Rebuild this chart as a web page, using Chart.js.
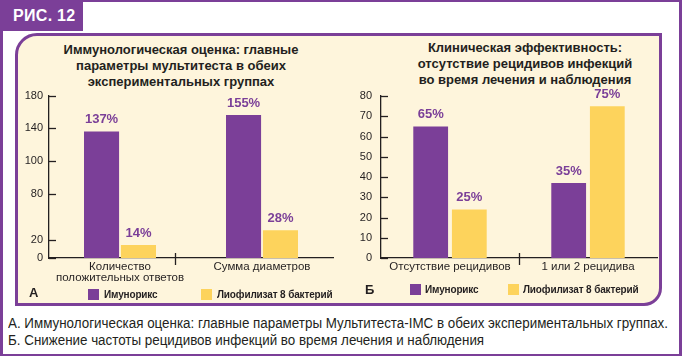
<!DOCTYPE html>
<html>
<head>
<meta charset="utf-8">
<script src="https://cdn.jsdelivr.net/npm/chart.js@4/dist/chart.umd.min.js"></script>
<style>
  html, body { margin: 0; padding: 0; background: #fff; }
  #root { position: relative; width: 682px; height: 356px; overflow: hidden; font-family: 'Liberation Sans', Arial, sans-serif; }
  .frame { position: absolute; left: 0; top: 0; width: 682px; height: 356px; box-sizing: border-box;
           border-top: 2px solid #7b3f98; border-right: 3px solid #7b3f98; border-bottom: 2px solid #7b3f98; border-left: 3px solid #7b3f98; }
  .fig { position: absolute; left: 0; top: 0; width: 83px; height: 31px; background: #7b3f98; color: #fff;
         font: bold 16px 'Liberation Sans', Arial, sans-serif; line-height: 31px; padding-left: 13px; box-sizing: border-box; letter-spacing: 0.3px; }
  .panel { position: absolute; left: 15px; top: 33px; width: 647px; height: 273px; box-sizing: border-box;
           background: #fef5dc; border: 3px solid #7b3f98; border-radius: 22px 0 18px 0; }
  .title { position: absolute; text-align: center; font: bold 13px 'Liberation Sans', Arial, sans-serif; color: #231f20; line-height: 16px; white-space: nowrap; }
  canvas { position: absolute; }
  .lg { position: absolute; font: bold 10px 'Liberation Sans', Arial, sans-serif; letter-spacing: -0.15px; color: #231f20; line-height: 12px; white-space: nowrap; }
  .sq { position: absolute; width: 11px; height: 11px; }
  .letter { position: absolute; font: bold 13px 'Liberation Sans', Arial, sans-serif; color: #231f20; line-height: 14px; }
  .cap { position: absolute; left: 8px; font: 14px 'Liberation Sans', Arial, sans-serif; color: #231f20; line-height: 17px; white-space: nowrap; transform-origin: 0 50%; }
</style>
</head>
<body>
<div id="root">
  <div class="frame"></div>
  <div class="fig" id="fig"></div>
  <div class="panel"></div>
  <div class="title" id="titleA" style="left:61px; width:240px; top:42px;"></div>
  <div class="title" id="titleB" style="left:405px; width:240px; top:40px;"></div>
  <canvas id="chartA" width="340" height="300" style="left:0; top:0;"></canvas>
  <canvas id="chartB" width="340" height="300" style="left:340px; top:0;"></canvas>

  <div class="letter" id="letA" style="left:29px; top:286px;"></div>
  <div class="sq" id="sqA1" style="left:88px; top:289px;"></div>
  <div class="lg" id="lgA1" style="left:104px; top:289px;"></div>
  <div class="sq" id="sqA2" style="left:201px; top:289px;"></div>
  <div class="lg" id="lgA2" style="left:217px; top:289px;"></div>

  <div class="letter" id="letB" style="left:365px; top:283px;"></div>
  <div class="sq" id="sqB1" style="left:410px; top:284px;"></div>
  <div class="lg" id="lgB1" style="left:425px; top:284px;"></div>
  <div class="sq" id="sqB2" style="left:508px; top:284px;"></div>
  <div class="lg" id="lgB2" style="left:523px; top:284px;"></div>

  <div class="cap" id="cap1" style="top:315px;"></div>
  <div class="cap" id="cap2" style="top:332px;"></div>
</div>
<script>
// ---------- DATA ----------
const figureLabel = 'РИС. 12';
const seriesNames = ['Имунорикс', 'Лиофилизат 8 бактерий'];

const titleA = ['Иммунологическая оценка: главные', 'параметры мультитеста в обеих', 'экспериментальных группах'];
const categoriesA = [['Количество', 'положительных ответов'], 'Сумма диаметров'];
const immunorixA = [137, 155];
const lyophilisateA = [14, 30];
const immunorixLabelsA = ['137%', '155%'];
const lyophilisateLabelsA = ['14%', '28%'];
const tickValuesA = [0, 19, 69.5, 105, 140.5, 175.5];
const tickLabelsA = ['0', '20', '80', '100', '140', '180'];

const titleB = ['Клиническая эффективность:', 'отсутствие рецидивов инфекций', 'во время лечения и наблюдения'];
const categoriesB = ['Отсутствие рецидивов', '1 или 2 рецидива'];
const immunorixB = [65, 37];
const lyophilisateB = [24, 75];
const immunorixLabelsB = ['65%', '35%'];
const lyophilisateLabelsB = ['25%', '75%'];
const tickValuesB = [0, 10, 20, 30, 40, 50, 60, 70, 80];
const tickLabelsB = ['0', '10', '20', '30', '40', '50', '60', '70', '80'];

const panelLetters = ['А', 'Б'];
const captions = [
  'А. Иммунологическая оценка: главные параметры Мультитеста-IMC в обеих экспериментальных группах.',
  'Б. Снижение частоты рецидивов инфекций во время лечения и наблюдения'
];

// ---------- STYLE ----------
const PURPLE = '#7b3f98';
const YELLOW = '#fdd35c';
const INK = '#231f20';

document.getElementById('fig').textContent = figureLabel;
document.getElementById('titleA').innerHTML = titleA.join('<br>');
document.getElementById('titleB').innerHTML = titleB.join('<br>');
document.getElementById('letA').textContent = panelLetters[0];
document.getElementById('letB').textContent = panelLetters[1];
['A', 'B'].forEach(p => {
  document.getElementById('sq' + p + '1').style.background = PURPLE;
  document.getElementById('sq' + p + '2').style.background = YELLOW;
  document.getElementById('lg' + p + '1').textContent = seriesNames[0];
  document.getElementById('lg' + p + '2').textContent = seriesNames[1];
});
const cap1 = document.getElementById('cap1'), cap2 = document.getElementById('cap2');
cap1.textContent = captions[0];
cap2.textContent = captions[1];
const capScale = 660 / cap1.getBoundingClientRect().width;
cap1.style.transform = 'scaleX(' + capScale + ')';
cap2.style.transform = 'scaleX(' + capScale + ')';

// plugin: value labels, inward ticks, category separator
const decor = {
  id: 'decor',
  afterDatasetsDraw(chart, args, opts) {
    const ctx = chart.ctx;
    ctx.save();
    ctx.fillStyle = PURPLE;
    ctx.font = 'bold 13px "Liberation Sans", Arial, sans-serif';
    ctx.textAlign = 'center';
    ctx.textBaseline = 'middle';
    chart.data.datasets.forEach((ds, di) => {
      chart.getDatasetMeta(di).data.forEach((bar, i) => {
        ctx.fillText(ds.valueLabels[i], bar.x, bar.y - 12);
      });
    });
    ctx.restore();
  },
  afterDraw(chart, args, opts) {
    const ctx = chart.ctx;
    const y = chart.scales.y, x = chart.scales.x;
    const left = chart.chartArea.left;
    ctx.save();
    ctx.strokeStyle = INK;
    ctx.lineWidth = 1.3;
    y.ticks.forEach(t => {
      const py = Math.round(y.getPixelForValue(t.value)) + 0.5;
      ctx.beginPath();
      ctx.moveTo(left, py);
      ctx.lineTo(left + opts.tickLen, py);
      ctx.stroke();
    });
    const sx = Math.round(x.getPixelForValue(opts.separatorAt)) + 0.5;
    const by = chart.chartArea.bottom;
    ctx.beginPath();
    ctx.moveTo(sx, by - 5);
    ctx.lineTo(sx, by + 7);
    ctx.stroke();
    ctx.restore();
  }
};

function makeChart(id, cfg) {
  return new Chart(document.getElementById(id), {
    type: 'bar',
    data: {
      labels: cfg.categories,
      datasets: [
        { label: seriesNames[0], data: cfg.s1, valueLabels: cfg.l1, backgroundColor: PURPLE,
          categoryPercentage: cfg.catPct, barPercentage: cfg.barPct },
        { label: seriesNames[1], data: cfg.s2, valueLabels: cfg.l2, backgroundColor: YELLOW,
          categoryPercentage: cfg.catPct, barPercentage: cfg.barPct }
      ]
    },
    options: {
      responsive: false,
      animation: false,
      layout: { padding: cfg.padding },
      plugins: {
        legend: { display: false },
        tooltip: { enabled: false },
        decor: { tickLen: 7, separatorAt: cfg.separatorAt }
      },
      scales: {
        x: {
          grid: { display: false, drawTicks: false },
          border: { display: true, color: INK, width: 1.3 },
          ticks: { color: INK, padding: 3, maxRotation: 0, autoSkip: false,
                   font: { family: "'Liberation Sans', Arial, sans-serif", size: 11.5, lineHeight: 1.0 } },
          afterFit(s) { s.height = 30; }
        },
        y: {
          min: 0, max: cfg.max,
          grid: { display: false, drawTicks: false },
          border: { display: true, color: INK, width: 1.3 },
          afterBuildTicks(s) { s.ticks = cfg.tickValues.map(v => ({ value: v })); },
          ticks: { color: INK, padding: cfg.tickPad,
                   font: { family: "'Liberation Sans', Arial, sans-serif", size: 11 },
                   callback: (v, i) => cfg.tickLabels[i] },
          afterFit(s) { s.width = cfg.yWidth; }
        }
      }
    },
    plugins: [decor]
  });
}

makeChart('chartA', {
  categories: categoriesA, s1: immunorixA, s2: lyophilisateA,
  l1: immunorixLabelsA, l2: lyophilisateLabelsA,
  tickValues: tickValuesA, tickLabels: tickLabelsA, max: 175.5,
  padding: { left: 0, top: 96, right: 7, bottom: 12 }, yWidth: 49, tickPad: 6,
  catPct: 0.52, barPct: 0.95, separatorAt: 0.39
});
makeChart('chartB', {
  categories: categoriesB, s1: immunorixB, s2: lyophilisateB,
  l1: immunorixLabelsB, l2: lyophilisateLabelsB,
  tickValues: tickValuesB, tickLabels: tickLabelsB, max: 80,
  padding: { left: 0, top: 96, right: 23, bottom: 12 }, yWidth: 41, tickPad: 9,
  catPct: 0.56, barPct: 0.9, separatorAt: 0.5
});
</script>
</body>
</html>
